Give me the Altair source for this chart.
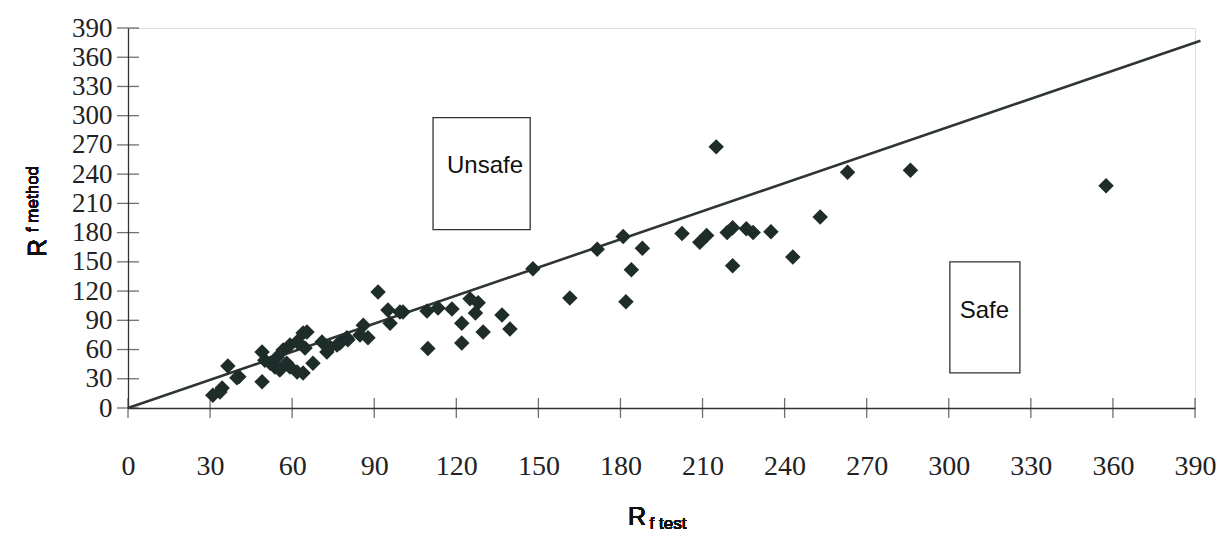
import altair as alt
import pandas as pd

# Scatter data: R_f test (x) vs R_f method (y)
rf_test = [357.5, 286, 263, 253, 243, 235, 228.5, 226, 221, 219, 221, 215, 211.5, 209,
           202.5, 188, 184, 181, 182, 171.5, 161.5, 148,
           139.6, 136.7, 129.8, 128, 127, 125, 122, 122, 118.4, 113.3, 109.6, 109.3,
           100.5, 99.4, 95.8, 95, 91.4, 87.7, 86, 84.8, 80.4, 77.5, 73.8, 72.7, 70.9,
           67.6, 65.4, 64.7, 64, 61.8, 59.2, 59.2, 58, 61.8, 56.7, 55.5, 54.5, 53.7,
           52, 50, 49, 49, 39.8, 40.5, 36.5, 34.4, 31, 33.6, 64, 76.4, 80]
rf_method = [228, 244, 242, 196, 155, 181, 180, 184, 185, 180, 146, 268, 177, 170,
             179, 164, 142, 176, 109, 163, 113, 143,
             81, 95.5, 78, 108, 97.5, 112, 87, 66.7, 101.6, 102.7, 61, 99.6,
             98.6, 98.6, 87, 100.6, 119, 72, 85, 75, 70, 66.7, 62.6, 57.5, 67.8,
             46, 78, 61.6, 36, 68, 64.7, 42, 46, 37, 59.5, 39, 52, 42,
             46, 49, 57.5, 27, 31, 32, 43, 20.5, 13, 16.4, 77, 64.7, 72]

# Reference line (as drawn)
line_x = [0, 392]
line_y = [0, 377]

# Tick values
ticks = list(range(0, 391, 30))

# Annotation boxes
box_label = ["Unsafe", "Safe"]
box_x1 = [111.5, 300.4]
box_x2 = [147, 326]
box_y1 = [183, 36]
box_y2 = [298, 150]
box_text_x = [130.5, 313]
box_text_y = [248, 100]

pts = pd.DataFrame({"x": rf_test, "y": rf_method})
line_df = pd.DataFrame({"x": line_x, "y": line_y})
tick_df = pd.DataFrame({"t": ticks})
box_df = pd.DataFrame({"label": box_label, "x1": box_x1, "x2": box_x2,
                       "y1": box_y1, "y2": box_y2, "tx": box_text_x, "ty": box_text_y})

W, H = 1067, 380
xs = alt.Scale(domain=[0, 390], nice=False, zero=False)
ys = alt.Scale(domain=[0, 390], nice=False, zero=False)

xaxis = alt.Axis(values=ticks, title=None, grid=False, ticks=False, domain=True,
                 domainColor="#333", domainWidth=1.3, labelFont="Liberation Serif",
                 labelFontSize=28, labelColor="#222", labelPadding=44,
                 labelOverlap=False, labelFlush=False)
yaxis = alt.Axis(values=ticks, title=None, grid=False, ticks=False, domain=True,
                 domainColor="#333", domainWidth=1.3, labelFont="Liberation Serif",
                 labelFontSize=27, labelColor="#222", labelPadding=16,
                 labelOverlap=False, labelFlush=False)


def X(field):
    return alt.X(field, scale=xs, axis=xaxis)


def Y(field):
    return alt.Y(field, scale=ys, axis=yaxis)


base_axes = alt.Chart(tick_df).mark_point(opacity=0).encode(x=X("t:Q"), y=Y("t:Q"))

xticks = alt.Chart(tick_df).mark_tick(orient="vertical", size=20, thickness=1.3, color="#333").encode(
    x=X("t:Q"), y=alt.value(H)
)
yticks = alt.Chart(tick_df).mark_tick(orient="horizontal", size=22, thickness=1.3, color="#333").encode(
    y=Y("t:Q"), x=alt.value(0)
)

line = alt.Chart(line_df).mark_line(color="#2e3533", strokeWidth=2.6, clip=False).encode(
    x=X("x:Q"), y=Y("y:Q")
)

points = alt.Chart(pts).mark_point(shape="diamond", filled=True, size=240,
                                   color="#1f2d2a", opacity=1).encode(
    x=X("x:Q"), y=Y("y:Q")
)

boxes = alt.Chart(box_df).mark_rect(fill="white", stroke="#333", strokeWidth=1.3).encode(
    x=X("x1:Q"), x2="x2:Q", y=Y("y1:Q"), y2="y2:Q"
)
box_text = alt.Chart(box_df).mark_text(font="Liberation Sans", fontSize=24, color="#111").encode(
    x=X("tx:Q"), y=Y("ty:Q"), text="label:N"
)

# Axis titles with subscripts
ytitle_R = alt.Chart(tick_df).mark_text(text="R", font="Liberation Sans", fontSize=25,
                                        angle=270, color="#111").encode(
    x=alt.value(-90), y=alt.value(220))
ytitle_sub = alt.Chart(tick_df).mark_text(text="f method", font="Liberation Sans", fontSize=17,
                                          angle=270, color="#111").encode(
    x=alt.value(-95), y=alt.value(171))
xtitle_R = alt.Chart(tick_df).mark_text(text="R", font="Liberation Sans", fontSize=25,
                                        color="#111").encode(
    x=alt.value(509), y=alt.value(489))
xtitle_sub = alt.Chart(tick_df).mark_text(text="f test", font="Liberation Sans", fontSize=17,
                                          color="#111").encode(
    x=alt.value(540), y=alt.value(496))

chart = alt.layer(base_axes, boxes, box_text, line, points, xticks, yticks,
                  ytitle_R, ytitle_sub, xtitle_R, xtitle_sub).properties(
    width=W, height=H,
    autosize=alt.AutoSizeParams(type="none"),
    padding={"left": 120, "top": 20, "right": 23, "bottom": 125},
).configure_view(stroke=None).configure(background="white")

chart.save("out.html", embed_options={"renderer": "svg", "actions": False})
